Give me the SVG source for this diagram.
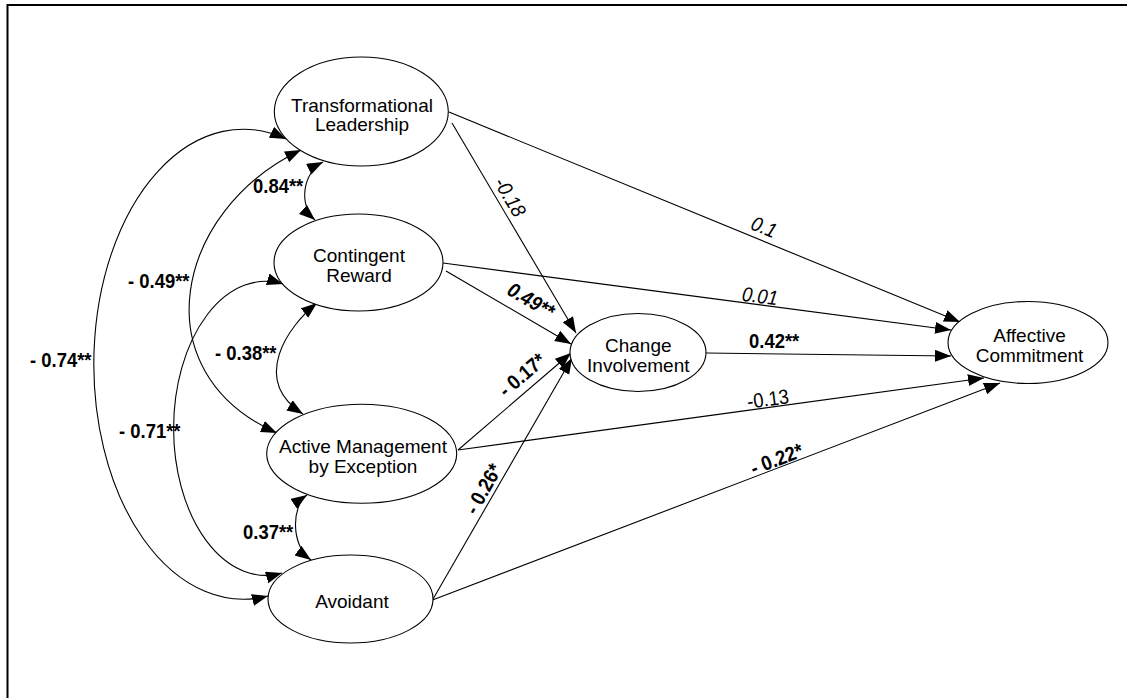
<svg xmlns="http://www.w3.org/2000/svg" width="1127" height="698" viewBox="0 0 1127 698">
<defs>
<marker id="ah" markerUnits="userSpaceOnUse" markerWidth="17" markerHeight="13" refX="16" refY="6" orient="auto-start-reverse" viewBox="0 0 17 13">
<path d="M0,0 L16,6 L0,12 z" fill="#000"/>
</marker>
<style>
.nd ellipse{fill:#fff;stroke:#000;stroke-width:1.1}
.nd text{font-family:"Liberation Sans",Arial,sans-serif;font-size:19px;text-anchor:middle;fill:#000}
.cn path,.cn line{fill:none;stroke:#000;stroke-width:1.1}
.ar{marker-end:url(#ah)}
.dbl{marker-start:url(#ah);marker-end:url(#ah)}
.lb{font-family:"Liberation Sans",Arial,sans-serif;font-size:20.5px;fill:#000}
.b{font-weight:bold}
.i{font-style:italic}
.m{text-anchor:middle}
</style>
</defs>
<rect x="0" y="0" width="1127" height="698" fill="#fff"/>
<rect x="7.5" y="5" width="1130" height="700" fill="none" stroke="#000" stroke-width="2"/>

<g class="cn" id="connectors">
<path class="dbl" d="M323,162 C303,172 298,205 315,220"/>
<path class="dbl" d="M301,150 C175,210 140,372 277,433"/>
<path class="dbl" d="M286,139 A149.5 235 0 1 0 268,596"/>
<path class="dbl" d="M283,284 A92 147 0 1 0 282,573"/>
<path class="dbl" d="M317,303 C288,326 250,380 303,414"/>
<path class="dbl" d="M307,495 C292,505 290,545 311,560"/>
<line class="ar" x1="449" y1="112" x2="960" y2="322"/>
<line class="ar" x1="452" y1="123" x2="576" y2="333"/>
<line class="ar" x1="443" y1="263" x2="951" y2="330"/>
<line class="ar" x1="446" y1="271" x2="571" y2="344"/>
<line class="ar" x1="706" y1="353" x2="951" y2="356"/>
<line class="ar" x1="458" y1="450" x2="571" y2="353"/>
<line class="ar" x1="458" y1="450" x2="984" y2="378"/>
<line class="ar" x1="432.5" y1="600" x2="572" y2="358"/>
<line class="ar" x1="432.5" y1="600" x2="1000" y2="383"/>
</g>

<g id="labels">
<text class="lb b" transform="translate(253,192.5) scale(0.9,1)">0.84**</text>
<text class="lb b" transform="translate(128,288) scale(0.9,1)">- 0.49**</text>
<text class="lb b" transform="translate(30,367) scale(0.9,1)">- 0.74**</text>
<text class="lb b" transform="translate(119,438) scale(0.9,1)">- 0.71**</text>
<text class="lb b" transform="translate(215,360) scale(0.9,1)">- 0.38**</text>
<text class="lb b" transform="translate(243,539) scale(0.9,1)">0.37**</text>
<text class="lb i m" transform="translate(504,200.6) rotate(59.4) scale(0.9,1)">-0.18</text>
<text class="lb i m" transform="translate(761.3,233.5) rotate(22.3) scale(0.9,1)">0.1</text>
<text class="lb i m" transform="translate(759,303) rotate(7.5) scale(0.9,1)">0.01</text>
<text class="lb b i m" transform="translate(527.5,306.5) rotate(30.3) scale(0.9,1)">0.49**</text>
<text class="lb b" transform="translate(749,348) scale(0.9,1)">0.42**</text>
<text class="lb b m" transform="translate(526.6,380.3) rotate(-40.9) scale(0.9,1)">- 0.17*</text>
<text class="lb m" transform="translate(768.9,406) rotate(-7.6) scale(0.9,1)">-0.13</text>
<text class="lb b m" transform="translate(489.5,492.4) rotate(-60.7) scale(0.9,1)">- 0.26*</text>
<text class="lb b m" transform="translate(779.2,465.7) rotate(-20.9) scale(0.9,1)">- 0.22*</text>
</g>

<g class="nd" id="node-tl">
<ellipse cx="361.3" cy="111.5" rx="87" ry="54.5"/>
<text x="362" y="111.5">Transformational</text>
<text x="362" y="131">Leadership</text>
</g>
<g class="nd" id="node-cr">
<ellipse cx="358.5" cy="262.5" rx="84.5" ry="48.5"/>
<text x="359" y="261.5">Contingent</text>
<text x="359" y="281.5">Reward</text>
</g>
<g class="nd" id="node-am">
<ellipse cx="361.7" cy="453.7" rx="95" ry="49.5"/>
<text x="363" y="452.7">Active Management</text>
<text x="363" y="473.3">by Exception</text>
</g>
<g class="nd" id="node-av">
<ellipse cx="350.5" cy="599" rx="82.5" ry="44"/>
<text x="352" y="608.3">Avoidant</text>
</g>
<g class="nd" id="node-ci">
<ellipse cx="638" cy="352.5" rx="68" ry="39"/>
<text x="638.3" y="351.7">Change</text>
<text x="638.3" y="371.7">Involvement</text>
</g>
<g class="nd" id="node-ac">
<ellipse cx="1028" cy="342.5" rx="80" ry="41"/>
<text x="1029.5" y="341.7">Affective</text>
<text x="1029.5" y="361.7">Commitment</text>
</g>
</svg>
